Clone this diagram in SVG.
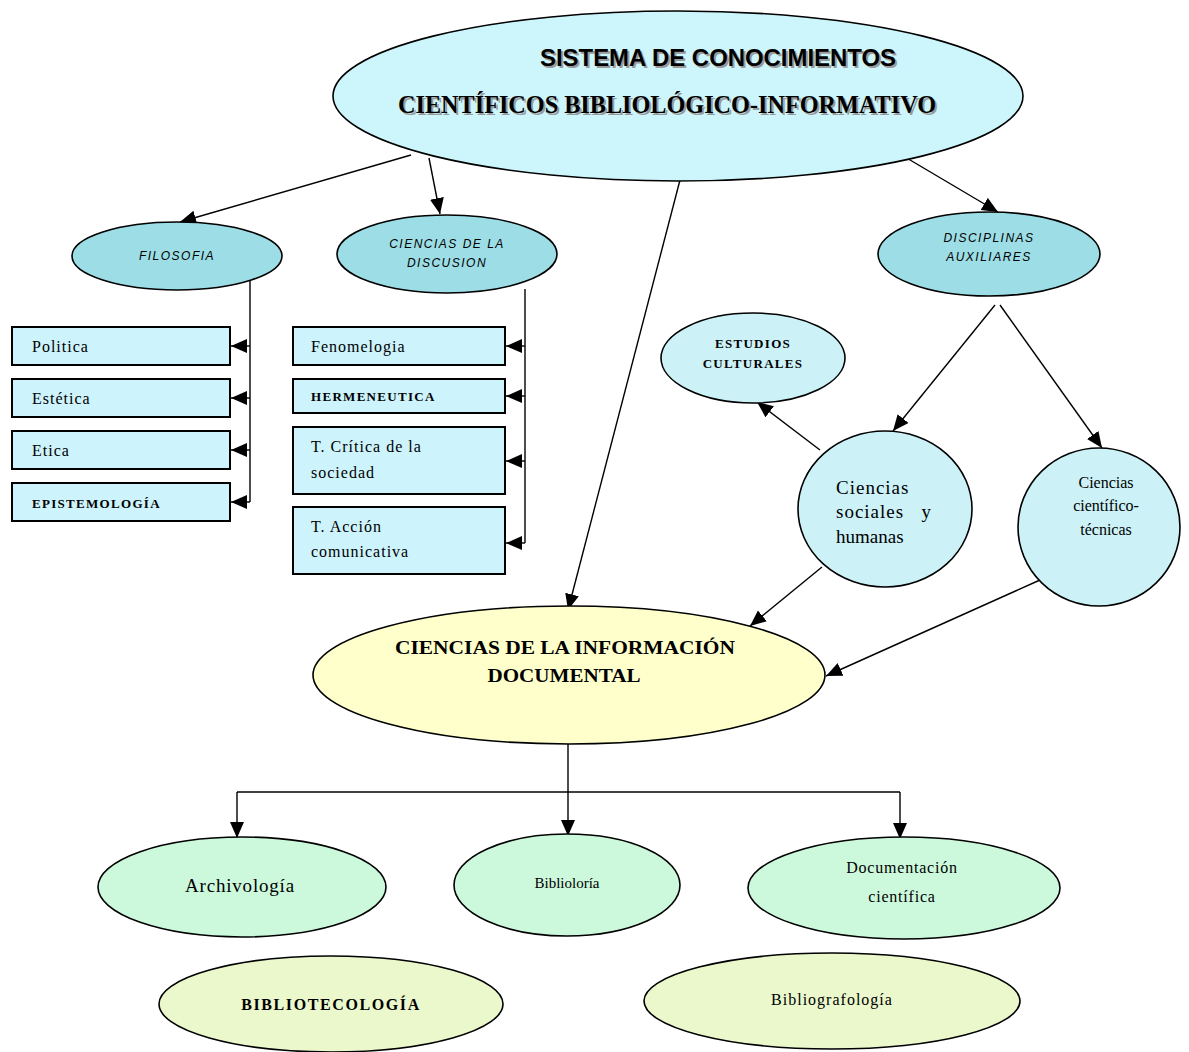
<svg xmlns="http://www.w3.org/2000/svg" width="1189" height="1052" viewBox="0 0 1189 1052">
<defs>
<marker id="ah" markerUnits="userSpaceOnUse" markerWidth="18" markerHeight="16" refX="16" refY="7" orient="auto">
<path d="M0,0 L16,7 L0,14 Z" fill="#000"/>
</marker>
<style>
.bg{fill:#fff}
.e{stroke:#000;stroke-width:1.6}
.top{fill:#ccf6fb}
.mid{fill:#9cdde6}
.cir{fill:#ccf2f8}
.box{fill:#cdf3fc;stroke:#000;stroke-width:2}
.info{fill:#ffffcc}
.mint{fill:#ccf9dc}
.lime{fill:#eaf8cc}
.c{fill:none;stroke:#000;stroke-width:1.4}
.ca{fill:none;stroke:#000;stroke-width:1.4;marker-end:url(#ah)}
.s{font-family:"Liberation Serif",serif;fill:#000}
.bx{font-family:"Liberation Serif",serif;fill:#000;font-size:16px;letter-spacing:1px}
.bb{font-family:"Liberation Serif",serif;fill:#000;font-size:13px;font-weight:bold;letter-spacing:1.3px}
.it{font-family:"Liberation Sans",sans-serif;font-style:italic;font-size:12px;fill:#000;text-anchor:middle;letter-spacing:1.5px}
.m{text-anchor:middle}
</style>
</defs>
<rect class="bg" x="0" y="0" width="1189" height="1052"/>

<g id="connectors">
<line class="ca" x1="411" y1="155" x2="180" y2="222"/>
<line class="ca" x1="429" y1="158" x2="440" y2="214"/>
<line class="ca" x1="680" y1="180" x2="568" y2="610"/>
<line class="ca" x1="905" y1="157" x2="998" y2="212"/>
<polyline class="c" points="250,280 250,502"/>
<line class="ca" x1="250" y1="346" x2="231" y2="346"/>
<line class="ca" x1="250" y1="398" x2="231" y2="398"/>
<line class="ca" x1="250" y1="450" x2="231" y2="450"/>
<line class="ca" x1="250" y1="502" x2="231" y2="502"/>
<polyline class="c" points="525,289 525,543"/>
<line class="ca" x1="525" y1="346" x2="506" y2="346"/>
<line class="ca" x1="525" y1="396" x2="506" y2="396"/>
<line class="ca" x1="525" y1="461" x2="506" y2="461"/>
<line class="ca" x1="525" y1="543" x2="506" y2="543"/>
<line class="ca" x1="995" y1="305" x2="893" y2="431"/>
<line class="ca" x1="1000" y1="305" x2="1102" y2="448"/>
<line class="ca" x1="820" y1="450" x2="757" y2="402"/>
<line class="ca" x1="822" y1="567" x2="750" y2="626"/>
<line class="ca" x1="1040" y1="580" x2="826" y2="676"/>
<polyline class="c" points="568,744 568,792"/>
<polyline class="c" points="237,792 900,792"/>
<line class="ca" x1="237" y1="792" x2="237" y2="838"/>
<line class="ca" x1="568" y1="792" x2="568" y2="836"/>
<line class="ca" x1="900" y1="792" x2="900" y2="839"/>
</g>

<g id="n-sistema">
<ellipse class="e top" cx="678" cy="96" rx="345" ry="85"/>
<text x="542" y="68" style="fill:#9a9a9a;font-family:'Liberation Sans',sans-serif;font-weight:bold;font-size:23px" textLength="356" lengthAdjust="spacingAndGlyphs">SISTEMA DE CONOCIMIENTOS</text>
<text x="540" y="66" style="font-family:'Liberation Sans',sans-serif;font-weight:bold;font-size:23px" textLength="356" lengthAdjust="spacingAndGlyphs">SISTEMA DE CONOCIMIENTOS</text>
<text x="400" y="115" style="fill:#9a9a9a;font-family:'Liberation Serif',serif;font-weight:bold;font-size:25px" textLength="538" lengthAdjust="spacingAndGlyphs">CIENTÍFICOS BIBLIOLÓGICO-INFORMATIVO</text>
<text x="398" y="113" style="font-family:'Liberation Serif',serif;font-weight:bold;font-size:25px" textLength="538" lengthAdjust="spacingAndGlyphs">CIENTÍFICOS BIBLIOLÓGICO-INFORMATIVO</text>
</g>

<g id="n-filosofia">
<ellipse class="e mid" cx="177" cy="256" rx="105" ry="34"/>
<text class="it" x="177" y="260">FILOSOFIA</text>
</g>

<g id="n-discusion">
<ellipse class="e mid" cx="447" cy="254" rx="110" ry="39"/>
<text class="it" x="447" y="248">CIENCIAS DE LA</text>
<text class="it" x="447" y="267">DISCUSION</text>
</g>

<g id="n-disciplinas">
<ellipse class="e mid" cx="989" cy="254" rx="111" ry="42"/>
<text class="it" x="989" y="242">DISCIPLINAS</text>
<text class="it" x="989" y="261">AUXILIARES</text>
</g>

<g id="n-estudios">
<ellipse class="e cir" cx="753" cy="358" rx="92" ry="45"/>
<text class="s m" x="753" y="348" style="font-size:13px;font-weight:bold;letter-spacing:1.3px">ESTUDIOS</text>
<text class="s m" x="753" y="368" style="font-size:13px;font-weight:bold;letter-spacing:1.3px">CULTURALES</text>
</g>

<g id="n-sociales">
<ellipse class="e cir" cx="885" cy="509" rx="87" ry="78"/>
<text class="s" x="836" y="494" style="font-size:19px;letter-spacing:1px">Ciencias</text>
<text class="s" x="836" y="518" style="font-size:19px;letter-spacing:1px" xml:space="preserve">sociales   y</text>
<text class="s" x="836" y="543" style="font-size:19px">humanas</text>
</g>

<g id="n-tecnicas">
<ellipse class="e cir" cx="1099" cy="527" rx="81" ry="79"/>
<text class="s m" x="1106" y="488" style="font-size:16px">Ciencias</text>
<text class="s m" x="1106" y="511" style="font-size:16px">científico-</text>
<text class="s m" x="1106" y="535" style="font-size:16px">técnicas</text>
</g>

<g id="n-politica"><rect class="box" x="12" y="327" width="218" height="38"/><text class="bx" x="32" y="352">Politica</text></g>
<g id="n-estetica"><rect class="box" x="12" y="379" width="218" height="38"/><text class="bx" x="32" y="404">Estética</text></g>
<g id="n-etica"><rect class="box" x="12" y="431" width="218" height="38"/><text class="bx" x="32" y="456">Etica</text></g>
<g id="n-epistemologia"><rect class="box" x="12" y="483" width="218" height="38"/><text class="bb" x="32" y="508">EPISTEMOLOGÍA</text></g>

<g id="n-fenomelogia"><rect class="box" x="293" y="327" width="212" height="38"/><text class="bx" x="311" y="352">Fenomelogia</text></g>
<g id="n-hermeneutica"><rect class="box" x="293" y="379" width="212" height="34"/><text class="bb" x="311" y="401">HERMENEUTICA</text></g>
<g id="n-critica"><rect class="box" x="293" y="427" width="212" height="67"/><text class="bx" x="311" y="452">T. Crítica de la</text><text class="bx" x="311" y="478">sociedad</text></g>
<g id="n-accion"><rect class="box" x="293" y="507" width="212" height="67"/><text class="bx" x="311" y="532">T. Acción</text><text class="bx" x="311" y="557">comunicativa</text></g>

<g id="n-informacion">
<ellipse class="e info" cx="569" cy="675" rx="256" ry="69"/>
<text class="s m" x="565" y="654" style="font-size:19px;font-weight:bold" textLength="340" lengthAdjust="spacingAndGlyphs">CIENCIAS DE LA INFORMACIÓN</text>
<text class="s m" x="564" y="682" style="font-size:19px;font-weight:bold" textLength="153" lengthAdjust="spacingAndGlyphs">DOCUMENTAL</text>
</g>

<g id="n-archivologia">
<ellipse class="e mint" cx="242" cy="887" rx="144" ry="50"/>
<text class="s m" x="240" y="892" style="font-size:19px;letter-spacing:0.8px">Archivología</text>
</g>
<g id="n-biblioloria">
<ellipse class="e mint" cx="567" cy="885" rx="113" ry="51"/>
<text class="s m" x="567" y="888" style="font-size:15px">Biblioloría</text>
</g>
<g id="n-documentacion">
<ellipse class="e mint" cx="904" cy="888" rx="156" ry="51"/>
<text class="s m" x="902" y="873" style="font-size:16px;letter-spacing:0.8px">Documentación</text>
<text class="s m" x="902" y="902" style="font-size:16px;letter-spacing:0.8px">científica</text>
</g>
<g id="n-bibliotecologia">
<ellipse class="e lime" cx="331" cy="1004" rx="172" ry="48"/>
<text class="s m" x="331" y="1010" style="font-size:16px;font-weight:bold;letter-spacing:1.6px">BIBLIOTECOLOGÍA</text>
</g>
<g id="n-bibliografologia">
<ellipse class="e lime" cx="832" cy="1001" rx="188" ry="48"/>
<text class="s m" x="832" y="1005" style="font-size:16px;letter-spacing:1px">Bibliografología</text>
</g>
</svg>
